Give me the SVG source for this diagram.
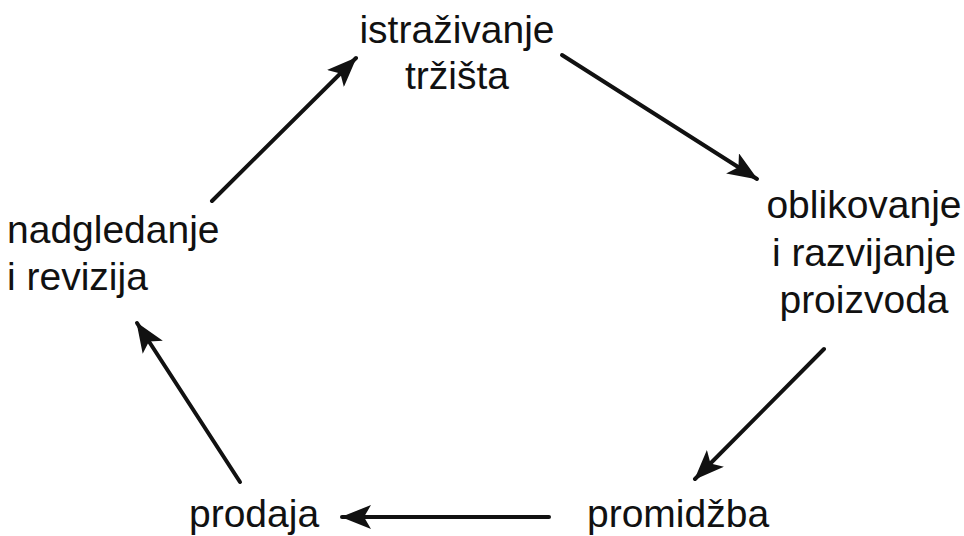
<svg xmlns="http://www.w3.org/2000/svg" width="964" height="536" viewBox="0 0 964 536">
<style>
text{font-family:"Liberation Sans",Arial,sans-serif;font-size:39px;fill:#111}
.c{text-anchor:middle}
.conn line{stroke:#111;stroke-width:4;stroke-linecap:round}
</style>
<defs>
<marker id="a" viewBox="0 0 30 24" refX="29" refY="12" markerWidth="30" markerHeight="24" markerUnits="userSpaceOnUse" orient="auto">
<path d="M0,0 L30,12 L0,24 L7,12 Z" fill="#111"/>
</marker>
</defs>
<rect width="964" height="536" fill="#fff"/>
<g class="conn">
<line x1="212" y1="201" x2="356" y2="58" marker-end="url(#a)"/>
<line x1="562" y1="55" x2="757" y2="179" marker-end="url(#a)"/>
<line x1="824" y1="349" x2="695" y2="479" marker-end="url(#a)"/>
<line x1="549" y1="517" x2="342" y2="517" marker-end="url(#a)"/>
<line x1="240" y1="482" x2="137" y2="323" marker-end="url(#a)"/>
</g>
<g id="n1"><text class="c" x="457" y="43">istraživanje</text><text class="c" x="457" y="89">tržišta</text></g>
<g id="n2"><text class="c" x="864" y="218">oblikovanje</text><text class="c" x="864" y="266">i razvijanje</text><text class="c" x="864" y="313">proizvoda</text></g>
<g id="n3"><text x="587" y="527">promidžba</text></g>
<g id="n4"><text x="189" y="527">prodaja</text></g>
<g id="n5"><text x="7" y="243">nadgledanje</text><text x="7" y="290">i revizija</text></g>
</svg>
